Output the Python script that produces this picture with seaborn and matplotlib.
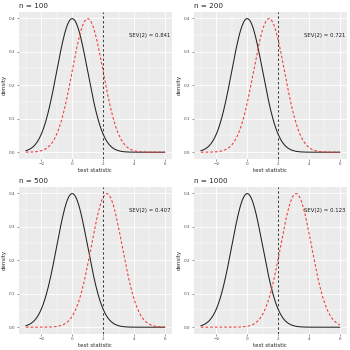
import matplotlib
matplotlib.use("Agg")
import matplotlib.pyplot as plt
import numpy as np
import pandas as pd
import seaborn as sns

# ── Data ──────────────────────────────────────────────────────────────────────
sample_sizes = [100, 200, 500, 1000]
alt_means = [1.0, 1.414, 2.236, 3.162]        # shift of the red (alternative) curve
sev_labels = ["0.841", "0.721", "0.407", "0.123"]
cutoff = 2
x_grid = np.linspace(-3, 6, 400)


def normal_pdf(x, mu):
    return np.exp(-0.5 * (x - mu) ** 2) / np.sqrt(2 * np.pi)


# ── Plot ──────────────────────────────────────────────────────────────────────
sns.set_theme(style="darkgrid", rc={
    "axes.facecolor": "#EBEBEB",
    "grid.color": "white",
    "axes.edgecolor": "#EBEBEB",
})
plt.rcParams["font.family"] = ["DejaVu Sans"]

fig = plt.figure(figsize=(3.5, 3.5), dpi=100)
boxes = [
    (0.054, 0.546, 0.437, 0.420),
    (0.554, 0.546, 0.437, 0.420),
    (0.054, 0.046, 0.437, 0.420),
    (0.554, 0.046, 0.437, 0.420),
]

for n, mu, sev, box in zip(sample_sizes, alt_means, sev_labels, boxes):
    ax = fig.add_axes(box)
    df = pd.DataFrame({
        "x": x_grid,
        "null": normal_pdf(x_grid, 0),
        "alt": normal_pdf(x_grid, mu),
    })
    sns.lineplot(data=df, x="x", y="null", color="#222222", lw=0.75, ax=ax)
    sns.lineplot(data=df, x="x", y="alt", color="#F03535", lw=0.75,
                 linestyle=(0, (2.5, 2)), ax=ax)
    ax.axvline(cutoff, color="#444444", lw=0.75, linestyle=(0, (2.5, 2)))
    ax.text(5, 0.35, f"SEV(2) = {sev}", ha="center", va="center",
            fontsize=3.9, color="#1A1A1A")

    ax.set_xlim(-3.45, 6.45)
    ax.set_ylim(-0.02, 0.419)
    ax.set_xticks([-2, 0, 2, 4, 6])
    ax.set_xticks([-3, -1, 1, 3, 5], minor=True)
    ax.set_yticks([0.0, 0.1, 0.2, 0.3, 0.4])
    ax.set_yticks([0.05, 0.15, 0.25, 0.35], minor=True)
    ax.set_yticklabels(["0.0", "0.1", "0.2", "0.3", "0.4"])
    ax.grid(which="major", color="white", lw=0.6)
    ax.grid(which="minor", color="white", lw=0.3)
    ax.tick_params(which="major", labelsize=3, colors="#4D4D4D", length=1.5,
                   width=0.4, pad=1, bottom=True, left=True)
    ax.tick_params(which="minor", length=0)
    for sp in ax.spines.values():
        sp.set_visible(False)
    ax.set_xlabel("test statistic", fontsize=4, labelpad=1)
    ax.set_ylabel("density", fontsize=4, labelpad=1.5)
    ax.set_title(f"n = {n}", fontsize=5.2, loc="left", pad=3)

fig.savefig("out.png", dpi=100)
plt.close(fig)
